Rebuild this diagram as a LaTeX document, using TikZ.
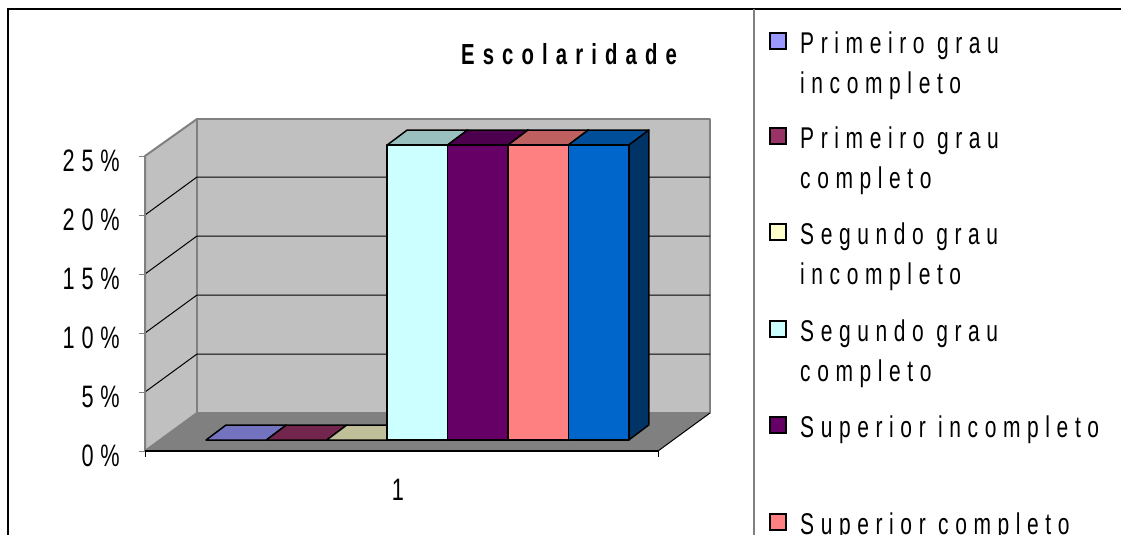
\documentclass[tikz,border=0pt]{standalone}
\usepackage{fontspec}
\setmainfont{Liberation Sans}
\newfontfamily\chartfont[FakeStretch=0.7,LetterSpace=22]{Liberation Sans}
\newfontfamily\titlefont[FakeStretch=0.7,LetterSpace=28]{Liberation Sans}
\usetikzlibrary{positioning}
\definecolor{wallgray}{RGB}{192,192,192}
\definecolor{floorgray}{RGB}{128,128,128}
\definecolor{pgi}{RGB}{153,153,255}
\definecolor{pgitop}{RGB}{115,115,191}
\definecolor{pgc}{RGB}{153,51,102}
\definecolor{pgctop}{RGB}{115,38,77}
\definecolor{sgi}{RGB}{255,255,204}
\definecolor{sgitop}{RGB}{191,191,153}
\definecolor{sgc}{RGB}{204,255,255}
\definecolor{sgctop}{RGB}{153,191,191}
\definecolor{supi}{RGB}{102,0,102}
\definecolor{supitop}{RGB}{77,0,77}
\definecolor{supc}{RGB}{255,128,128}
\definecolor{supctop}{RGB}{191,96,96}
\definecolor{pos}{RGB}{0,102,204}
\definecolor{postop}{RGB}{0,77,153}
\definecolor{posside}{RGB}{0,51,102}
\tikzstyle{wall}=[fill=wallgray,draw=floorgray,line width=2pt,line join=round]
\tikzstyle{floor}=[fill=floorgray]
\tikzstyle{gridline}=[draw=black,line width=1pt]
\tikzstyle{axisline}=[draw=floorgray,line width=2pt]
\tikzstyle{barface}=[draw=black,line width=1.5pt,line join=round]
\tikzstyle{legendkey}=[draw=black,line width=1.5pt,minimum size=16pt,inner sep=0pt]
\tikzstyle{legendtext}=[anchor=base west,align=left,inner sep=0pt,font=\chartfont\fontsize{30}{40}\selectfont]
\tikzstyle{ticklabel}=[anchor=east,inner sep=0pt,font=\chartfont\fontsize{31}{36}\selectfont]

\begin{document}
\begin{tikzpicture}[x=1pt,y=-1pt]

    \useasboundingbox (0,0) rectangle (1121,535);

    % Frame and legend divider
    \draw[line width=1.5pt] (8,535) -- (8,9) -- (1121,9);
    \draw[draw=floorgray,line width=2pt] (754,9) -- (754,535);

    % Walls and floor
    \path[wall] (145,451) -- (145,156) -- (197,119) -- (197,413) -- cycle;
    \path[wall] (197,119) rectangle (710,413);
    \path[floor] (145,451) -- (197,413) -- (710,413) -- (658,451) -- cycle;
    \draw[line width=1pt] (658,451) -- (710,413);

    % Grid lines
    \foreach \k in {1,...,4}
    {
        \draw[gridline] (145,451-59*\k) -- (197,413-59*\k) -- (710,413-59*\k);
    }

    % Axes, ticks and labels
    \draw[axisline] (145,156) -- (145,451);
    \draw[line width=1.5pt] (145,451) -- (658,451);
    \draw[line width=1pt] (145,451) -- (145,457) (658,451) -- (658,457);
    \foreach \k/\name/\label in {0/y0/0, 1/y5/5, 2/y10/10, 3/y15/15, 4/y20/20, 5/y25/25}
    {
        \draw[axisline,line width=1pt] (139,451-59*\k) -- (145,451-59*\k);
        \node[ticklabel] (\name) at (120,456-59*\k) {\label\%};
    }
    \node[inner sep=0pt,font=\chartfont\fontsize{31}{36}\selectfont] (cat) at (398,490) {1};

    % Bars lying flat at zero
    \foreach \i/\col in {0/pgitop, 1/pgctop, 2/sgitop}
        \path[barface,fill=\col] (206+60.4*\i,440) -- (266.4+60.4*\i,440) -- (286.4+60.4*\i,425) -- (226+60.4*\i,425) -- cycle;

    % Bars at 25 percent
    \foreach \i/\col/\topcol in {3/sgc/sgctop, 4/supi/supitop, 5/supc/supctop, 6/pos/postop}
    {
        \path[barface,fill=posside] (266.4+60.4*\i,440) -- (286.4+60.4*\i,425) -- (286.4+60.4*\i,130) -- (266.4+60.4*\i,145) -- cycle;
        \path[barface,fill=\topcol] (206+60.4*\i,145) -- (266.4+60.4*\i,145) -- (286.4+60.4*\i,130) -- (226+60.4*\i,130) -- cycle;
        \path[barface,fill=\col] (206+60.4*\i,145) rectangle (266.4+60.4*\i,440);
    }

    % Title
    \node[anchor=base,inner sep=0pt,font=\titlefont\bfseries\fontsize{29}{34}\selectfont] (title) at (569,64) {Escolaridade};

    % Legend (text anchored on its last line)
    \foreach \y/\by/\name/\col/\label in {41/93/k1/pgi/{Primeiro grau\\incompleto}, 136/188/k2/pgc/{Primeiro grau\\completo}, 232/284/k3/sgi/{Segundo grau\\incompleto}, 329/381/k4/sgc/{Segundo grau\\completo}, 425/437/k5/supi/{Superior incompleto}, 522/534/k6/supc/{Superior completo}}
    {
        \node[legendkey,fill=\col] (\name) at (778,\y) {};
        \node[legendtext] (\name text) at (800,\by) {\label};
    }

\end{tikzpicture}
\end{document}
